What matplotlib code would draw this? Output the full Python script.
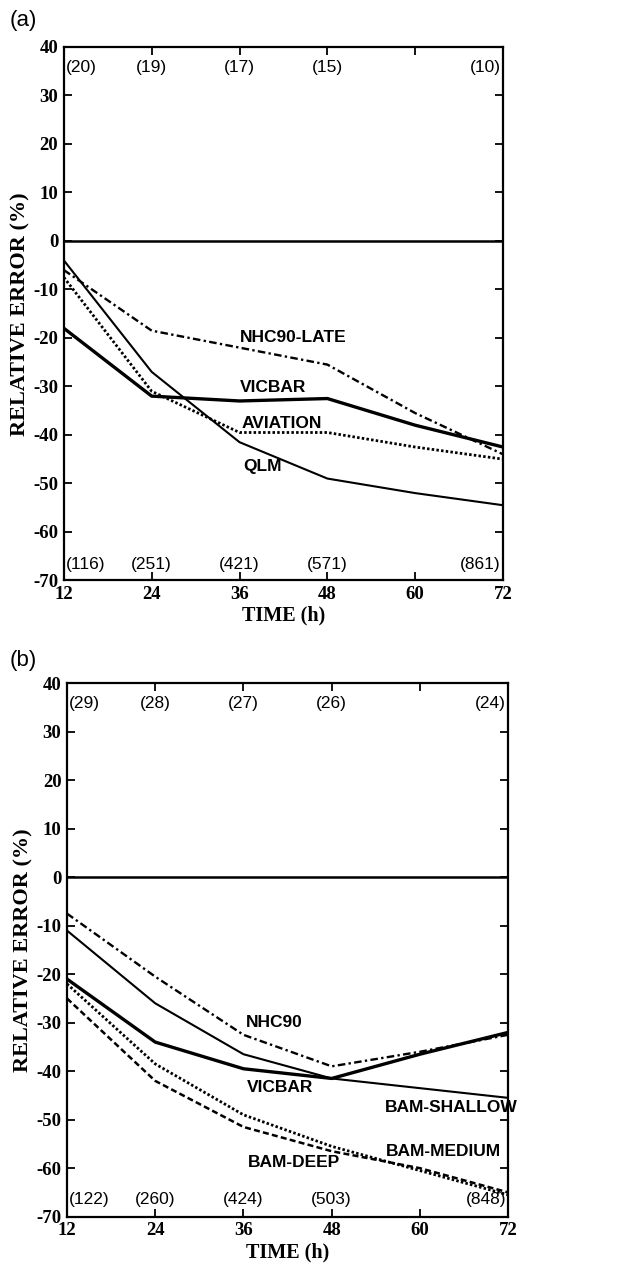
import matplotlib
matplotlib.use("Agg")
import matplotlib.pyplot as plt

# ---------------- data ----------------
hours = [12, 24, 36, 48, 60, 72]
count_hours = [12, 24, 36, 48, 72]

# panel (a)
a_nhc90_late = [-6, -18.5, -22, -25.5, -35.5, -44]
a_vicbar = [-18, -32, -33, -32.5, -38, -42.5]
a_aviation = [-7.5, -31, -39.5, -39.5, -42.5, -45]
a_qlm = [-4, -27, -41.5, -49, -52, -54.5]
a_top_counts = ["(20)", "(19)", "(17)", "(15)", "(10)"]
a_bottom_counts = ["(116)", "(251)", "(421)", "(571)", "(861)"]

# panel (b)
b_nhc90 = [-7.5, -20.5, -32.5, -39, -36, -32.5]
b_vicbar = [-21, -34, -39.5, -41.5, -36.5, -32]
b_bam_shallow = [-11, -26, -36.5, -41.5, -43.5, -45.5]
b_bam_medium = [-22, -38.5, -49, -55.5, -60.5, -65.5]
b_bam_deep = [-25, -42, -51.5, -56.5, -60, -65]
b_top_counts = ["(29)", "(28)", "(27)", "(26)", "(24)"]
b_bottom_counts = ["(122)", "(260)", "(424)", "(503)", "(848)"]

x_ticks = [12, 24, 36, 48, 60, 72]
y_ticks = [40, 30, 20, 10, 0, -10, -20, -30, -40, -50, -60, -70]

# ---------------- styles ----------------
SERIF = "Liberation Serif"
SANS = "Liberation Sans"
DASHDOT = (0, (3.2, 1.4, 1.0, 1.4))
DOTTED = (0, (0.9, 0.8))
DASHED = (0, (2.4, 1.3))

fig = plt.figure(figsize=(6.32, 12.70), dpi=100)
ax_a = fig.add_axes([0.101, 0.543, 0.695, 0.420])
ax_b = fig.add_axes([0.106, 0.042, 0.698, 0.420])


def style_axes(ax):
    ax.set_xlim(12, 72)
    ax.set_ylim(-70, 40)
    ax.set_xticks(x_ticks)
    ax.set_yticks(y_ticks)
    ax.set_xticklabels([str(t) for t in x_ticks], fontfamily=SERIF,
                       fontsize=13.5, fontweight="bold")
    ax.set_yticklabels([str(t) for t in y_ticks], fontfamily=SERIF,
                       fontsize=13.5, fontweight="bold")
    ax.tick_params(direction="in", length=6, width=1.3, top=True, right=True,
                   pad=4)
    for s in ax.spines.values():
        s.set_linewidth(1.6)
    ax.axhline(0, color="black", lw=1.8, zorder=2)
    ax.set_xlabel("TIME (h)", fontfamily=SERIF, fontsize=14.5,
                  fontweight="bold", labelpad=2)
    ax.set_ylabel("RELATIVE ERROR (%)", fontfamily=SERIF, fontsize=16,
                  fontweight="bold", labelpad=2)


def counts(ax, top, bottom, ytop, ybot):
    for i, (h, t, b) in enumerate(zip(count_hours, top, bottom)):
        if i == 0:
            x, ha = h + 0.3, "left"
        elif i == len(count_hours) - 1:
            x, ha = h - 0.3, "right"
        else:
            x, ha = h, "center"
        ax.text(x, ytop, t, ha=ha, va="center", fontfamily=SANS, fontsize=12.5)
        ax.text(x, ybot, b, ha=ha, va="center", fontfamily=SANS, fontsize=12.5)


# ---------------- panel (a) ----------------
ax = ax_a
style_axes(ax)
ax.plot(hours, a_nhc90_late, color="black", lw=1.7, ls=DASHDOT)
ax.plot(hours, a_vicbar, color="black", lw=2.4, ls="-")
ax.plot(hours, a_aviation, color="black", lw=2.0, ls=DOTTED)
ax.plot(hours, a_qlm, color="black", lw=1.5, ls="-")
lab = dict(fontfamily=SANS, fontsize=12.5, fontweight="bold", va="center",
           ha="left")
ax.text(36.0, -20, "NHC90-LATE", **lab)
ax.text(36.0, -30.3, "VICBAR", **lab)
ax.text(36.3, -37.6, "AVIATION", **lab)
ax.text(36.5, -46.5, "QLM", **lab)
counts(ax, a_top_counts, a_bottom_counts, 35.7, -66.8)
fig.text(0.015, 0.984, "(a)", fontfamily=SANS, fontsize=16, va="center")

# ---------------- panel (b) ----------------
ax = ax_b
style_axes(ax)
ax.plot(hours, b_nhc90, color="black", lw=1.7, ls=DASHDOT)
ax.plot(hours, b_vicbar, color="black", lw=2.4, ls="-")
ax.plot(hours, b_bam_shallow, color="black", lw=1.5, ls="-")
ax.plot(hours, b_bam_medium, color="black", lw=2.0, ls=DOTTED)
ax.plot(hours, b_bam_deep, color="black", lw=1.8, ls=DASHED)
ax.text(36.35, -30, "NHC90", **lab)
ax.text(36.5, -43.4, "VICBAR", **lab)
ax.text(55.3, -47.5, "BAM-SHALLOW", clip_on=False, **lab)
ax.text(55.4, -56.6, "BAM-MEDIUM", **lab)
ax.text(36.6, -58.9, "BAM-DEEP", **lab)
counts(ax, b_top_counts, b_bottom_counts, 35.9, -66.5)
fig.text(0.015, 0.480, "(b)", fontfamily=SANS, fontsize=16, va="center")

fig.savefig("out.png", dpi=100)
